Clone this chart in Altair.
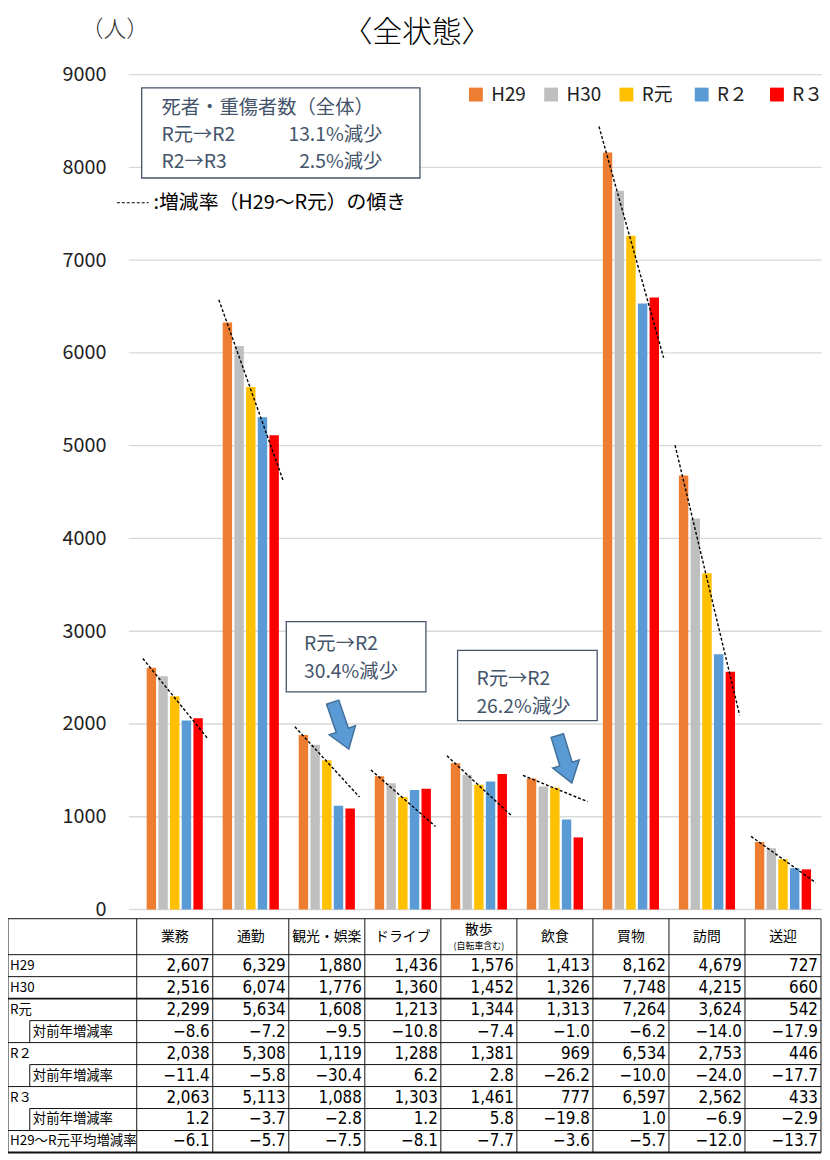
import altair as alt
import pandas as pd

FONT = "Noto Sans CJK JP"
NUM_FONT = "Liberation Sans Narrow"

# ---------------- data ----------------
categories = ["業務", "通勤", "観光・娯楽", "ドライブ", "散歩", "飲食", "買物", "訪問", "送迎"]
header_sub = ["", "", "", "", "(自転車含む)", "", "", "", ""]
series = ["H29", "H30", "R元", "R２", "R３"]
colors = ["#ed7d31", "#bfbfbf", "#ffc000", "#5b9bd5", "#ff0000"]

h29 = [2607, 6329, 1880, 1436, 1576, 1413, 8162, 4679, 727]
h30 = [2516, 6074, 1776, 1360, 1452, 1326, 7748, 4215, 660]
r1 = [2299, 5634, 1608, 1213, 1344, 1313, 7264, 3624, 542]
r2 = [2038, 5308, 1119, 1288, 1381, 969, 6534, 2753, 446]
r3 = [2063, 5113, 1088, 1303, 1461, 777, 6597, 2562, 433]

r1_rate = [-8.6, -7.2, -9.5, -10.8, -7.4, -1.0, -6.2, -14.0, -17.9]
r2_rate = [-11.4, -5.8, -30.4, 6.2, 2.8, -26.2, -10.0, -24.0, -17.7]
r3_rate = [1.2, -3.7, -2.8, 1.2, 5.8, -19.8, 1.0, -6.9, -2.9]
avg_rate = [-6.1, -5.7, -7.5, -8.1, -7.7, -3.6, -5.7, -12.0, -13.7]

# dashed trend lines (H29~R元 slope), values read at the line ends
trend_start = [2706, 6573, 1970, 1505, 1657, 1446, 8441, 5006, 788]
trend_end = [1847, 4615, 1212, 894, 1010, 1163, 5948, 2094, 290]

y_ticks = [0, 1000, 2000, 3000, 4000, 5000, 6000, 7000, 8000, 9000]

row_labels = ["H29", "H30", "R元", "対前年増減率", "R２", "対前年増減率",
              "R３", "対前年増減率", "H29～R元平均増減率"]
row_indent = [0, 0, 0, 1, 0, 1, 0, 1, 0]
row_kind = ["n", "n", "n", "r", "n", "r", "n", "r", "r"]
row_values = [h29, h30, r1, r1_rate, r2, r2_rate, r3, r3_rate, avg_rate]

# ---------------- scales ----------------
XS = alt.Scale(domain=[0, 9], range=[130, 821], nice=False, zero=False)
YB = alt.Scale(domain=[0, 9000], range=[904.7, 61.7], nice=False, zero=False)
YT = alt.Scale(domain=[0, 10], range=[950.3, 1172.3], nice=False, zero=False)

# ---------------- tables for the library ----------------
bar_rows = []
for k, (s, vals) in enumerate(zip(series, [h29, h30, r1, r2, r3])):
    for ci, v in enumerate(vals):
        bar_rows.append({"ci": ci, "k": k, "series": s, "value": v})
bars_df = pd.DataFrame(bar_rows)

trend_df = pd.DataFrame({"ci": list(range(9)), "start": trend_start, "end": trend_end})
grid_df = pd.DataFrame({"v": y_ticks})


def fmt(v, kind):
    if kind == "n":
        return f"{v:,}"
    return f"{v:.1f}".replace("-", "−")


cell_rows = []
for r, (vals, kind) in enumerate(zip(row_values, row_kind)):
    for ci, v in enumerate(vals):
        cell_rows.append({"ci": ci, "r": r, "t": fmt(v, kind)})
cells_df = pd.DataFrame(cell_rows)

rowlab_df = pd.DataFrame({"r": list(range(len(row_labels))), "t": row_labels, "ind": row_indent})
head_df = pd.DataFrame({"ci": list(range(9)), "t": categories, "sub": header_sub})

# table grid structure
X_LEFT = -1.693
X_IND = -1.407
Y_TOP = -1.635
line_rows = []
for yv in [Y_TOP, 0, 1, 2, 3, 4, 5, 6, 7, 8, 9]:
    xs = X_IND if yv in (3, 5, 7) else X_LEFT
    w = 2.0 if yv in (2, 9) else 1.0
    line_rows.append({"x": xs, "x2": 9, "y": yv, "y2": yv, "w": w})
for xv in [X_LEFT] + list(range(10)):
    line_rows.append({"x": xv, "x2": xv, "y": Y_TOP, "y2": 9, "w": 1.0})
for yv in (3, 5, 7):
    line_rows.append({"x": X_IND, "x2": X_IND, "y": yv, "y2": yv + 1, "w": 1.0})
lines_df = pd.DataFrame(line_rows)

one = pd.DataFrame({"a": [0]})

# ---------------- layers ----------------
grid = alt.Chart(grid_df).mark_rule(color="#d9d9d9", strokeWidth=1.3).encode(
    x=alt.value(122), x2=alt.value(822),
    y=alt.Y("v:Q", scale=YB, axis=None),
)

bars = alt.Chart(bars_df).transform_calculate(
    xa="datum.ci + 0.5 + (datum.k - 2) * 0.1537 - 0.0619",
    xb="datum.ci + 0.5 + (datum.k - 2) * 0.1537 + 0.0619",
).mark_bar().encode(
    x=alt.X("xa:Q", scale=XS, axis=None),
    x2="xb:Q",
    y=alt.Y("value:Q", scale=YB,
            axis=alt.Axis(values=y_ticks, format="d", offset=-99, ticks=False, tickSize=0,
                          labelPadding=0, domain=False, grid=False, title=None,
                          labelFontSize=20, labelFont=FONT, labelColor="#222")),
    y2=alt.datum(0),
    color=alt.Color("series:N", scale=alt.Scale(domain=series, range=colors),
                    legend=alt.Legend(orient="none", legendX=463, legendY=72,
                                      direction="horizontal", columns=5, gridAlign="all",
                                      symbolType="square", symbolSize=196,
                                      symbolStrokeWidth=0, labelFontSize=19,
                                      labelFont=FONT, labelColor="#222", title=None,
                                      columnPadding=16, labelOffset=6, padding=0)),
)

trend = alt.Chart(trend_df).transform_calculate(
    xa="datum.ci + 0.08", xb="datum.ci + 0.93"
).mark_rule(color="#000", strokeDash=[3, 2], strokeWidth=1.4).encode(
    x=alt.X("xa:Q", scale=XS, axis=None), x2="xb:Q",
    y=alt.Y("start:Q", scale=YB, axis=None), y2="end:Q",
)


def label(txt, x, y, size, color="#000", align="left", font=FONT, weight="normal"):
    return alt.Chart(pd.DataFrame({"t": [txt]})).mark_text(
        align=align, baseline="middle", fontSize=size, font=font, color=color,
        fontWeight=weight
    ).encode(x=alt.value(x), y=alt.value(y), text="t:N")


def box(x1, x2, y1, y2):
    return alt.Chart(one).mark_rect(fill="white", stroke="#44546a", strokeWidth=1.3).encode(
        x=alt.value(x1), x2=alt.value(x2), y=alt.value(y1), y2=alt.value(y2))


ARROW = "M-0.26,-1 L0.26,-1 L0.26,0.2 L0.56,0.2 L0,1 L-0.56,0.2 L-0.26,0.2 Z"


def arrow(x, y, ang):
    return alt.Chart(one).mark_point(shape=ARROW, size=2500, angle=ang, filled=True,
                                     fill="#5b9bd5", stroke="#41719c", strokeWidth=1.5,
                                     opacity=1).encode(x=alt.value(x), y=alt.value(y))


BOXC = "#44546a"
BS = 19.5
annots = [
    label("〈全状態〉", 413, 20, 30, align="center", weight=300),
    label("（人）", 108, 17, 23, color="#333", align="center", weight=300),
    box(135, 416, 75, 166),
    label("死者・重傷者数（全体）", 155, 95, BS, BOXC),
    label("R元→R2", 155, 123, BS, BOXC),
    label("13.1%減少", 378, 123, BS, BOXC, align="right"),
    label("R2→R3", 155, 150, BS, BOXC),
    label("2.5%減少", 378, 150, BS, BOXC, align="right"),
    alt.Chart(one).mark_rule(color="#000", strokeDash=[3, 2], strokeWidth=1.2).encode(
        x=alt.value(110), x2=alt.value(142), y=alt.value(191)),
    label(":増減率（H29～R元）の傾き", 147, 191, 20),
    box(281, 422, 614, 685),
    label("R元→R2", 299, 637, BS, BOXC),
    label("30.4%減少", 299, 665, BS, BOXC),
    box(454, 595, 643, 714),
    label("R元→R2", 473, 672, BS, BOXC),
    label("26.2%減少", 473, 700, BS, BOXC),
    arrow(336, 719, 341),
    arrow(562, 753, 343),
]

# ---------------- table ----------------
tlines = alt.Chart(lines_df).mark_rule(color="#111").encode(
    x=alt.X("x:Q", scale=XS, axis=None), x2="x2:Q",
    y=alt.Y("y:Q", scale=YT, axis=None), y2="y2:Q",
    strokeWidth=alt.StrokeWidth("w:Q", scale=None, legend=None),
)

thead = alt.Chart(head_df).transform_calculate(
    xc="datum.ci + 0.5", yc="datum.sub ? -1.14 : -0.82"
).mark_text(align="center", baseline="middle", fontSize=14, font=FONT, color="#000").encode(
    x=alt.X("xc:Q", scale=XS, axis=None), y=alt.Y("yc:Q", scale=YT, axis=None), text="t:N")

thead_sub = alt.Chart(head_df).transform_filter("datum.sub != ''").transform_calculate(
    xc="datum.ci + 0.5", yc="-0.37"
).mark_text(align="center", baseline="middle", fontSize=9, font=FONT, color="#000").encode(
    x=alt.X("xc:Q", scale=XS, axis=None), y=alt.Y("yc:Q", scale=YT, axis=None), text="sub:N")

trows = alt.Chart(rowlab_df).transform_calculate(
    xc="datum.ind ? -1.367 : -1.667", yc="datum.r + 0.5"
).mark_text(align="left", baseline="middle", fontSize=13.5, font=FONT, color="#000").encode(
    x=alt.X("xc:Q", scale=XS, axis=None), y=alt.Y("yc:Q", scale=YT, axis=None), text="t:N")

tcells = alt.Chart(cells_df).transform_calculate(
    xc="datum.ci + 1 - 0.04", yc="datum.r + 0.5"
).mark_text(align="right", baseline="middle", fontSize=17,
            font=NUM_FONT + ", DejaVu Sans Condensed, sans-serif", color="#000").encode(
    x=alt.X("xc:Q", scale=XS, axis=None), y=alt.Y("yc:Q", scale=YT, axis=None), text="t:N")

chart = alt.layer(
    grid, bars, trend, *annots, tlines, thead, thead_sub, trows, tcells
).resolve_scale(y="independent").properties(
    width=822, height=1152
).configure(
    padding=0, autosize=alt.AutoSizeParams(type="none"), background="white"
).configure_view(stroke=None)

chart.save("out.html", embed_options={"renderer": "svg", "actions": False})
